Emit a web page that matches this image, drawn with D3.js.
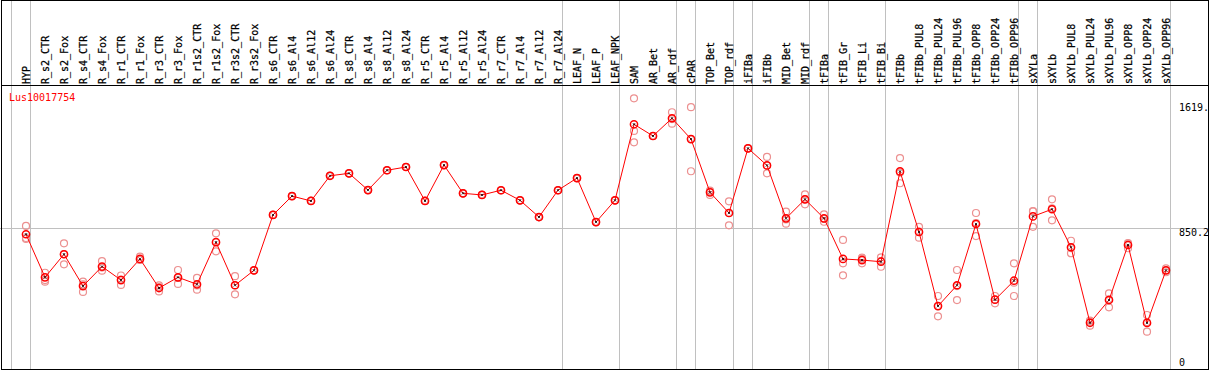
<!DOCTYPE html>
<html>
<head>
<meta charset="utf-8">
<script src="https://cdn.jsdelivr.net/npm/d3@7.9.0/dist/d3.min.js"></script>
<style>
  body { margin: 0; background: #fff; }
  svg { display: block; }
  text { font-family: "DejaVu Sans Mono", monospace; font-size: 10px; }
  text.cat { stroke: #000; stroke-width: 0.25px; }
</style>
</head>
<body>
<svg id="chart" width="1209" height="370"></svg>
<script>
const geneName = 'Lus10017754';

const categories = ['HYP', 'R_s2_CTR', 'R_s2_Fox', 'R_s4_CTR', 'R_s4_Fox', 'R_r1_CTR', 'R_r1_Fox',
    'R_r3_CTR', 'R_r3_Fox', 'R_r1s2_CTR', 'R_r1s2_Fox', 'R_r3s2_CTR', 'R_r3s2_Fox',
    'R_s6_CTR', 'R_s6_Al4', 'R_s6_Al12', 'R_s6_Al24', 'R_s8_CTR', 'R_s8_Al4', 'R_s8_Al12', 'R_s8_Al24',
    'R_r5_CTR', 'R_r5_Al4', 'R_r5_Al12', 'R_r5_Al24', 'R_r7_CTR', 'R_r7_Al4', 'R_r7_Al12', 'R_r7_Al24',
    'LEAF_N', 'LEAF_P', 'LEAF_NPK', 'SAM', 'AR_Bet', 'AR_rdf', 'cPAR', 'TOP_Bet', 'TOP_rdf',
    'iFIBa', 'iFIBb', 'MID_Bet', 'MID_rdf', 'tFIBa', 'tFIB_Gr', 'tFIB_Li', 'tFIB_Bi',
    'tFIBb', 'tFIBb_PUL8', 'tFIBb_PUL24', 'tFIBb_PUL96', 'tFIBb_OPP8', 'tFIBb_OPP24', 'tFIBb_OPP96',
    'sXYLa', 'sXYLb', 'sXYLb_PUL8', 'sXYLb_PUL24', 'sXYLb_PUL96', 'sXYLb_OPP8', 'sXYLb_OPP24', 'sXYLb_OPP96'];

// mean expression per sample
const means = [811, 546, 688, 492, 612, 529, 659, 480, 546, 503,
    762, 497, 589, 930, 1046, 1016, 1171, 1186, 1083, 1205,
    1225, 1016, 1237, 1063, 1053, 1082, 1020, 917, 1082, 1157,
    886, 1020, 1488, 1416, 1525, 1397, 1069, 942, 1340, 1235,
    909, 1026, 909, 659, 652, 642, 1198, 825, 369, 497,
    874, 408, 525, 921, 965, 731, 266, 406, 745, 265,
    589];

// replicates
const rep1 = [862, 574, 755, 520, 646, 557, 673, 496, 591, 542,
    817, 553, 589, 930, 1046, 1016, 1171, 1186, 1083, 1205,
    1225, 1016, 1237, 1063, 1053, 1082, 1020, 917, 1082, 1157,
    886, 1020, 1648, 1416, 1562, 1593, 1079, 1014, 1340, 1287,
    950, 1057, 934, 776, 667, 669, 1280, 857, 431, 591,
    942, 431, 632, 954, 1026, 771, 279, 447, 757, 314,
    601];
const rep2 = [788, 529, 626, 456, 587, 499, 653, 459, 505, 470,
    706, 441, 589, 930, 1046, 1016, 1171, 1186, 1083, 1205,
    1225, 1016, 1237, 1063, 1053, 1082, 1020, 917, 1082, 1157,
    886, 1020, 1447, 1416, 1492, 1199, 1053, 866, 1340, 1186,
    876, 995, 888, 632, 632, 611, 1125, 790, 306, 406,
    800, 386, 431, 857, 897, 694, 248, 361, 725, 211,
    577];
const rep3 = [782, 519, 689, 502, 606, 532, 653, 486, 542, 496,
    763, 497, 589, 930, 1046, 1016, 1171, 1186, 1083, 1205,
    1225, 1016, 1237, 1063, 1053, 1082, 1020, 917, 1082, 1157,
    886, 1020, 1377, 1416, 1520, 1397, 1075, 942, 1340, 1233,
    902, 1026, 905, 558, 659, 646, 1191, 827, 369, 492,
    880, 408, 513, 952, 971, 726, 273, 411, 753, 269,
    589];

// separator drawn after these samples
const groupEnds = ['HYP', 'R_r7_Al24', 'LEAF_NPK', 'AR_rdf', 'cPAR', 'TOP_rdf', 'iFIBa',
    'MID_rdf', 'tFIBa', 'tFIB_Bi', 'tFIBb_OPP96', 'sXYLa', 'sXYLb_OPP96'];

const tickValues = [1619, 850.2, 0];
const tickLabels = ['1619.', '850.2', '0'];

const W = 1209, H = 370;
const headerY = 85;
const step = 19;

const svg = d3.select('#chart');

const x = d3.scalePoint()
    .domain(categories)
    .range([26, 26 + step * (categories.length - 1)]);

const y = d3.scaleLinear()
    .domain([0, 1619])
    .range([366, 103]);

const crisp = (v) => Math.round(v) + 0.5;

// vertical separators (first one sits before HYP)
const sepX = [x('HYP') - step + 4].concat(groupEnds.map((c) => x(c) + 4));
svg.selectAll('line.sep')
    .data(sepX)
    .join('line')
    .attr('class', 'sep')
    .attr('x1', (d) => crisp(d)).attr('x2', (d) => crisp(d))
    .attr('y1', 0).attr('y2', 369)
    .attr('stroke', '#c0c0c0');

// mid reference line
svg.append('line')
    .attr('x1', 0).attr('x2', W)
    .attr('y1', crisp(y(850.2))).attr('y2', crisp(y(850.2)))
    .attr('stroke', '#c0c0c0');

// frame and header rule
svg.append('rect')
    .attr('x', 1.5).attr('y', 0.5)
    .attr('width', 1207).attr('height', 369)
    .attr('fill', 'none').attr('stroke', '#000');
svg.append('line')
    .attr('x1', 1).attr('x2', 1208)
    .attr('y1', headerY + 0.5).attr('y2', headerY + 0.5)
    .attr('stroke', '#000');

// rotated sample labels
svg.selectAll('text.cat')
    .data(categories)
    .join('text')
    .attr('class', 'cat')
    .attr('transform', (d) => `translate(${x(d) + 4},${headerY - 1}) rotate(-90)`)
    .attr('fill', '#000')
    .text((d) => d);

// y labels on the right
svg.selectAll('text.tick')
    .data(tickValues)
    .join('text')
    .attr('class', 'tick')
    .attr('x', 1179)
    .attr('y', (d) => Math.min(y(d) + 8, 366))
    .attr('fill', '#000')
    .text((d, i) => tickLabels[i]);

svg.append('text')
    .attr('x', 9).attr('y', 101)
    .attr('fill', '#ff0000')
    .text(geneName);

// replicate circles
const reps = [];
categories.forEach((c, i) => {
    [rep1[i], rep2[i], rep3[i]].forEach((v) => reps.push({ c, v }));
});
svg.selectAll('circle.rep')
    .data(reps)
    .join('circle')
    .attr('class', 'rep')
    .attr('cx', (d) => x(d.c))
    .attr('cy', (d) => y(d.v))
    .attr('r', 3.5)
    .attr('fill', 'none')
    .attr('stroke', '#ec9090')
    .attr('stroke-width', 1.2);

// mean line
const line = d3.line()
    .x((d, i) => x(categories[i]))
    .y((d) => y(d));
svg.append('path')
    .attr('d', line(means))
    .attr('fill', 'none')
    .attr('stroke', '#ff0000')
    .attr('stroke-width', 1);

// mean markers
const meanG = svg.selectAll('g.mean')
    .data(means)
    .join('g')
    .attr('class', 'mean')
    .attr('transform', (d, i) => `translate(${x(categories[i])},${y(d)})`);
meanG.append('circle')
    .attr('r', 3.6)
    .attr('fill', 'none')
    .attr('stroke', '#ff0000')
    .attr('stroke-width', 1.5);
meanG.append('path')
    .attr('d', 'M-1.2,-1.2L1.2,1.2M-1.2,1.2L1.2,-1.2')
    .attr('stroke', '#000')
    .attr('stroke-width', 0.8);
</script>
</body>
</html>
